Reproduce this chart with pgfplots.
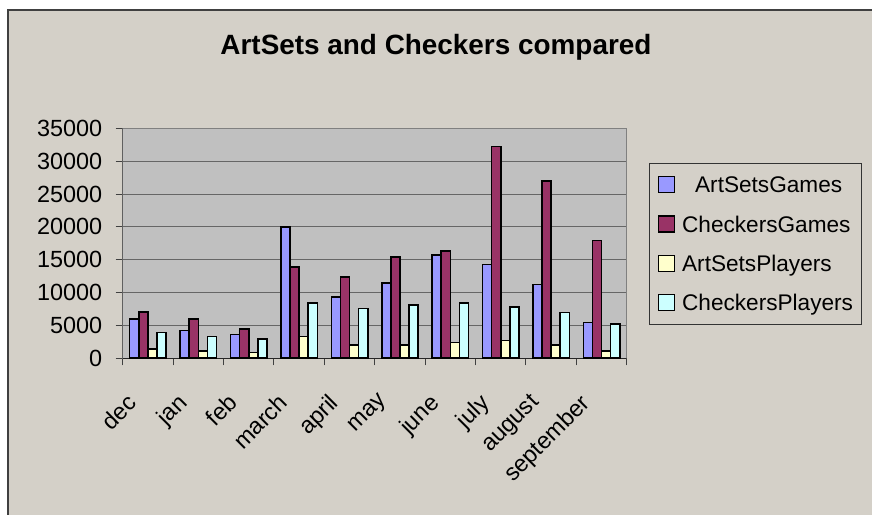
\documentclass[border=0pt]{standalone}
\usepackage{fontspec}
\setmainfont{Liberation Sans}
\usepackage{pgfplots}
\pgfplotsset{compat=1.18}
\definecolor{chartbg}{HTML}{D4D0C8}
\definecolor{plotbg}{HTML}{C0C0C0}
\definecolor{asg}{HTML}{9999FF}
\definecolor{cg}{HTML}{993366}
\definecolor{asp}{HTML}{FFFFCC}
\definecolor{cp}{HTML}{CCFFFF}
\begin{document}
\begin{tikzpicture}[x=1bp,y=1bp]
\path[use as bounding box, fill=white] (-122.7,-156.7) rectangle (749.3,358.3);
\fill[chartbg] (-114.7,-156.7) rectangle (749.3,348.3);
\draw[black!75, line width=1.5bp] (-114.7,-156.7) -- (-114.7,348.3) -- (749.3,348.3);
\begin{axis}[
  scale only axis, width=504bp, height=230bp,
  at={(0,0)}, anchor=south west,
  ybar=0pt, bar width=9.1bp,
  xmin=-0.5, xmax=9.5, ymin=0, ymax=35000,
  axis background/.style={fill=plotbg},
  axis line style={draw=gray, line width=1bp},
  ymajorgrids, grid style={draw=black!60, line width=1bp},
  ytick={0,5000,...,35000},
  scaled y ticks=false,
  tick pos=left,
  tick align=outside, major tick length=7bp,
  tick style={draw=black!75, line width=1bp},
  yticklabel style={/pgf/number format/1000 sep={}, /pgf/number format/assume math mode=true, font=\fontsize{23.5}{27}\selectfont, xshift=-10bp},
  xtick={-0.5,0.5,...,9.5}, xticklabels={},
  extra x ticks={0,1,2,3,4,5,6,7,8,9},
  extra x tick labels={dec,jan,feb,march,april,may,june,july,august,september},
  extra x tick style={major tick length=0pt, grid=none},
  xticklabel style={font=\fontsize{23.5}{27}\selectfont, inner sep=0pt, xshift=-22bp, yshift=-34bp, rotate=45, anchor=north east},
  title={ArtSets and Checkers compared},
  title style={at={(axis description cs:0.6216,1.297)}, anchor=base, font=\bfseries\fontsize{28}{33}\selectfont},
  legend style={at={(1.0443,0.8504)}, anchor=north west, draw=black!80, fill=none, line width=1bp,
    inner xsep=8bp, inner ysep=13bp, row sep=22bp, font=\fontsize{22.7}{27}\selectfont,
    nodes={inner sep=0pt, text height=16bp, text depth=0bp}},
  legend cell align=left,
  legend image code/.code={\draw[#1,/tikz/.cd,line width=1.2bp] (0bp,-8bp) rectangle (16bp,8bp); \path[draw=none,fill=none] (0bp,-8bp) -- (24bp,8bp);},
]
\draw[black!85, line width=1.2bp] (rel axis cs:0,1) -- (rel axis cs:0,0) -- (rel axis cs:1,0);
\addplot[fill=asg, draw=black, line width=1.6bp] coordinates {(0,6000) (1,4200) (2,3600) (3,20000) (4,9350) (5,11500) (6,15750) (7,14250) (8,11200) (9,5450)};
\addplot[fill=cg, draw=black, line width=1.6bp] coordinates {(0,7000) (1,6000) (2,4500) (3,13900) (4,12400) (5,15450) (6,16350) (7,32200) (8,27000) (9,17900)};
\addplot[fill=asp, draw=black, line width=1.6bp] coordinates {(0,1450) (1,1150) (2,900) (3,3300) (4,2050) (5,2050) (6,2400) (7,2700) (8,2050) (9,1150)};
\addplot[fill=cp, draw=black, line width=1.6bp] coordinates {(0,3900) (1,3300) (2,2950) (3,8450) (4,7550) (5,8150) (6,8450) (7,7800) (8,6950) (9,5200)};
\legend{\hspace*{13bp}ArtSetsGames,CheckersGames,ArtSetsPlayers,CheckersPlayers}
\end{axis}
\end{tikzpicture}
\end{document}
